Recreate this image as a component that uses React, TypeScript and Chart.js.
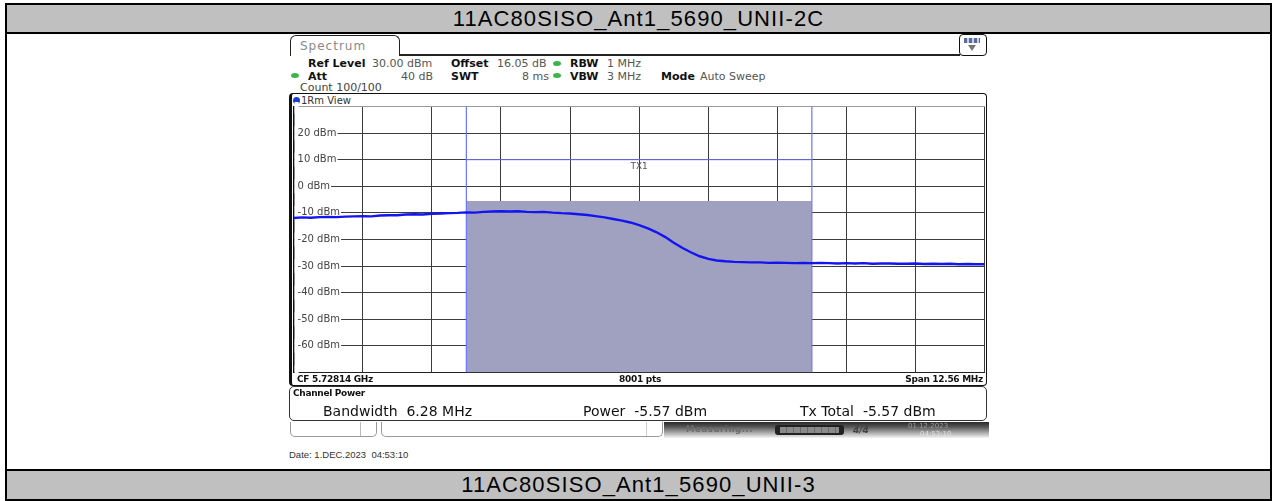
import React, { useEffect, useRef } from "react";
import { Chart, registerables } from "chart.js";

Chart.register(...registerables);

// ---- data (frequency offset from CF 5.72814 GHz, MHz) ----
const freqOffsetMHz = [
  -6.28, -6.12, -5.97, -5.81, -5.65, -5.5, -5.34, -5.18, -5.02, -4.87,
  -4.71, -4.55, -4.4, -4.24, -4.08, -3.93, -3.77, -3.61, -3.45, -3.3,
  -3.14, -2.98, -2.83, -2.67, -2.51, -2.36, -2.2, -2.04, -1.88, -1.73,
  -1.57, -1.41, -1.26, -1.1, -0.94, -0.79, -0.63, -0.47, -0.31, -0.16,
  0.0, 0.16, 0.31, 0.47, 0.63, 0.79, 0.94, 1.1, 1.26, 1.41,
  1.57, 1.73, 1.88, 2.04, 2.2, 2.36, 2.51, 2.67, 2.83, 2.98,
  3.14, 3.3, 3.45, 3.61, 3.77, 3.93, 4.08, 4.24, 4.4, 4.55,
  4.71, 4.87, 5.02, 5.18, 5.34, 5.5, 5.65, 5.81, 5.97, 6.12, 6.28,
];
const traceDbm = [
  -11.9, -11.7, -11.8, -11.6, -11.5, -11.6, -11.4, -11.3, -11.2, -11.3,
  -11.0, -10.9, -10.9, -10.6, -10.5, -10.6, -10.3, -10.2, -10.1, -10.0,
  -9.8, -9.9, -9.6, -9.5, -9.4, -9.5, -9.4, -9.6, -9.7, -9.6,
  -9.9, -10.1, -10.2, -10.5, -10.8, -11.2, -11.7, -12.3, -12.9, -13.6,
  -14.6, -15.8, -17.2, -19.0, -21.2, -23.2, -24.8, -26.3, -27.3, -27.9,
  -28.2, -28.4, -28.5, -28.6, -28.6, -28.8, -28.7, -28.8, -28.9, -28.8,
  -28.9, -28.8, -28.9, -29.0, -28.9, -29.0, -28.9, -29.1, -29.0, -29.0,
  -29.1, -29.1, -29.0, -29.2, -29.1, -29.2, -29.1, -29.3, -29.2, -29.3, -29.3,
];
const xGridMHz = [-6.28, -5.024, -3.768, -2.512, -1.256, 0, 1.256, 2.512, 3.768, 5.024, 6.28];
const yGridDbm = [30, 20, 10, 0, -10, -20, -30, -40, -50, -60, -70];
const yLabelDbm = [20, 10, 0, -10, -20, -30, -40, -50, -60];
const channelEdgesMHz = [-3.14, 3.14];
const channelPowerDbm = -5.57;
const txLineDbm = 10;
const txLabel = "TX1";

const FONT = '"DejaVu Sans", sans-serif';

const txLabelPlugin = {
  id: "txLabel",
  afterDatasetsDraw(chart: any) {
    const { ctx, scales } = chart;
    const x = scales.x.getPixelForValue((channelEdgesMHz[0] + channelEdgesMHz[1]) / 2);
    const y = scales.y.getPixelForValue(txLineDbm);
    ctx.save();
    ctx.font = `9px ${FONT}`;
    ctx.fillStyle = "#555";
    ctx.textAlign = "center";
    ctx.textBaseline = "top";
    ctx.fillText(txLabel, x, y + 2);
    ctx.restore();
  },
};

function T(props: any) {
  const { x, y, right, children, style } = props;
  const s: any = {
    position: "absolute",
    top: y,
    transform: "translateY(-50%)",
    whiteSpace: "nowrap",
    lineHeight: 1,
    fontFamily: FONT,
    ...style,
  };
  if (right !== undefined) s.right = 1274 - right;
  else s.left = x;
  return <span style={s}>{children}</span>;
}

function SpectrumChart() {
  const ref = useRef<HTMLCanvasElement | null>(null);
  useEffect(() => {
    if (!ref.current) return;
    const lineColor = "#6a72ff";
    const chart = new Chart(ref.current, {
      type: "line",
      data: {
        datasets: [
          {
            label: "trace",
            data: freqOffsetMHz.map((f, i) => ({ x: f, y: traceDbm[i] })),
            borderColor: "#1414f0",
            borderWidth: 2.4,
            pointRadius: 0,
            tension: 0,
            fill: false,
            order: 0,
          },
          {
            label: "chLow",
            data: [
              { x: channelEdgesMHz[0], y: yGridDbm[0] },
              { x: channelEdgesMHz[0], y: yGridDbm[yGridDbm.length - 1] },
            ],
            borderColor: lineColor,
            borderWidth: 1.2,
            pointRadius: 0,
            fill: false,
            order: 1,
          },
          {
            label: "chHigh",
            data: [
              { x: channelEdgesMHz[1], y: yGridDbm[0] },
              { x: channelEdgesMHz[1], y: yGridDbm[yGridDbm.length - 1] },
            ],
            borderColor: lineColor,
            borderWidth: 1.2,
            pointRadius: 0,
            fill: false,
            order: 1,
          },
          {
            label: "tx",
            data: [
              { x: channelEdgesMHz[0], y: txLineDbm },
              { x: channelEdgesMHz[1], y: txLineDbm },
            ],
            borderColor: lineColor,
            borderWidth: 1,
            pointRadius: 0,
            fill: false,
            order: 1,
          },
          {
            label: "channel",
            data: [
              { x: channelEdgesMHz[0], y: channelPowerDbm },
              { x: channelEdgesMHz[1], y: channelPowerDbm },
            ],
            borderWidth: 0,
            borderColor: "rgba(0,0,0,0)",
            backgroundColor: "#a0a1c1",
            pointRadius: 0,
            fill: "start",
            order: 2,
          },
        ],
      },
      options: {
        animation: false,
        responsive: false,
        devicePixelRatio: 1,
        layout: { padding: { left: 4.6, top: 4.5, right: 4.4, bottom: 4.5 } },
        plugins: { legend: { display: false }, tooltip: { enabled: false } },
        scales: {
          x: {
            type: "linear",
            min: xGridMHz[0],
            max: xGridMHz[xGridMHz.length - 1],
            afterBuildTicks: (s: any) => {
              s.ticks = xGridMHz.map((v) => ({ value: v }));
            },
            afterFit: (s: any) => {
              s.height = 0;
              s.paddingLeft = 0;
              s.paddingRight = 0;
            },
            ticks: { display: false },
            grid: { color: "#3c3c3c", lineWidth: 1, drawTicks: false },
            border: { display: true, color: "#222", width: 1 },
          },
          y: {
            type: "linear",
            min: yGridDbm[yGridDbm.length - 1],
            max: yGridDbm[0],
            afterBuildTicks: (s: any) => {
              s.ticks = yGridDbm.map((v) => ({ value: v }));
            },
            afterFit: (s: any) => {
              s.width = 0;
              s.paddingTop = 0;
              s.paddingBottom = 0;
            },
            ticks: {
              mirror: true,
              padding: 4,
              color: "#444",
              font: { family: "DejaVu Sans", size: 10 },
              callback: (v: any) => (yLabelDbm.includes(Number(v)) ? `${v} dBm` : ""),
              showLabelBackdrop: true,
              backdropColor: "#ffffff",
              backdropPadding: { top: 1, bottom: 1, left: 3, right: 1 },
            },
            grid: {
              color: (c: any) => (c.tick && c.tick.value === yGridDbm[0] ? "#9a9a9a" : "#3c3c3c"),
              lineWidth: 1,
              drawTicks: false,
            },
            border: { display: true, color: "#111", width: 1.5 },
          },
        },
      },
      plugins: [txLabelPlugin],
    } as any);
    return () => chart.destroy();
  }, []);
  return (
    <canvas
      ref={ref}
      width={700}
      height={275}
      style={{ position: "absolute", left: 289, top: 102, width: 700, height: 275 }}
    />
  );
}

export default function App() {
  useEffect(() => {
    document.body.style.margin = "0";
  }, []);
  const lbl = { fontSize: 11, fontWeight: "bold", color: "#111" };
  const val = { fontSize: 11, color: "#555" };
  const dot = (cx: number, cy: number) => (
    <div
      style={{
        position: "absolute",
        left: cx - 4,
        top: cy - 2.5,
        width: 8,
        height: 5,
        borderRadius: "50%",
        background: "#3bb54a",
      }}
    />
  );
  const head = {
    fontFamily: '"Liberation Sans", Arial, sans-serif',
    fontSize: 22,
    letterSpacing: 1.1,
    color: "#000",
  };
  const barTxt = { fontSize: 9, fontWeight: "bold", color: "#111", letterSpacing: -0.3 };
  return (
    <div
      style={{
        position: "absolute",
        left: 0,
        top: 0,
        width: 1274,
        height: 501,
        background: "#fff",
        overflow: "hidden",
      }}
    >
      {/* table */}
      <div
        style={{
          position: "absolute",
          left: 5,
          top: 3,
          width: 1267,
          height: 498,
          border: "2px solid #000",
          boxSizing: "border-box",
        }}
      />
      <div
        style={{
          position: "absolute",
          left: 7,
          top: 5,
          width: 1263,
          height: 27,
          background: "#c0c0c0",
          display: "flex",
          alignItems: "center",
          justifyContent: "center",
        }}
      >
        <span style={head}>11AC80SISO_Ant1_5690_UNII-2C</span>
      </div>
      <div style={{ position: "absolute", left: 7, top: 32, width: 1263, height: 2, background: "#000" }} />
      <div style={{ position: "absolute", left: 7, top: 469, width: 1263, height: 2, background: "#000" }} />
      <div
        style={{
          position: "absolute",
          left: 7,
          top: 471,
          width: 1263,
          height: 28,
          background: "#c0c0c0",
          display: "flex",
          alignItems: "center",
          justifyContent: "center",
        }}
      >
        <span style={head}>11AC80SISO_Ant1_5690_UNII-3</span>
      </div>

      {/* Spectrum tab */}
      <div
        style={{
          position: "absolute",
          left: 290,
          top: 35,
          width: 110,
          height: 21,
          border: "1.5px solid #222",
          borderBottom: "none",
          borderRadius: "6px 6px 0 0",
          boxSizing: "border-box",
        }}
      />
      <div style={{ position: "absolute", left: 399, top: 54, width: 561, height: 1.5, background: "#222" }} />
      <T x={300} y={45.5} style={{ fontSize: 12, color: "#8a8a8a", letterSpacing: 1 }}>
        Spectrum
      </T>
      {/* icon */}
      <div
        style={{
          position: "absolute",
          left: 959,
          top: 34,
          width: 28,
          height: 22,
          border: "1.5px solid #111",
          borderRadius: 4,
          boxSizing: "border-box",
          background: "#fff",
        }}
      >
        <div
          style={{
            position: "absolute",
            left: 4,
            top: 3,
            width: 16,
            height: 5,
            background: "repeating-linear-gradient(90deg,#5a6a9a 0 3px,#c8d0e8 3px 5px)",
          }}
        />
        <div
          style={{
            position: "absolute",
            left: 8,
            top: 10,
            width: 0,
            height: 0,
            borderLeft: "4px solid transparent",
            borderRight: "4px solid transparent",
            borderTop: "6px solid #777",
          }}
        />
      </div>

      {/* settings */}
      <T x={308} y={63} style={lbl}>Ref Level</T>
      <T x={372} y={63} style={val}>30.00 dBm</T>
      <T x={451} y={63} style={lbl}>Offset</T>
      <T x={497} y={63} style={val}>16.05 dB</T>
      {dot(557, 63)}
      <T x={570} y={63} style={lbl}>RBW</T>
      <T x={607} y={63} style={val}>1 MHz</T>
      {dot(295, 75.5)}
      <T x={308} y={75.5} style={lbl}>Att</T>
      <T right={433} y={75.5} style={val}>40 dB</T>
      <T x={451} y={75.5} style={lbl}>SWT</T>
      <T right={549} y={75.5} style={val}>8 ms</T>
      {dot(557, 75.5)}
      <T x={570} y={75.5} style={lbl}>VBW</T>
      <T x={607} y={75.5} style={val}>3 MHz</T>
      <T x={661} y={75.5} style={lbl}>Mode</T>
      <T x={700} y={75.5} style={val}>Auto Sweep</T>
      <T x={300} y={87} style={{ fontSize: 11, color: "#444" }}>Count 100/100</T>

      {/* diagram window */}
      <div
        style={{
          position: "absolute",
          left: 289,
          top: 93,
          width: 698,
          height: 293,
          border: "1.5px solid #111",
          borderLeft: "3px solid #111",
          borderRadius: 4,
          boxSizing: "border-box",
        }}
      />
      <div
        style={{
          position: "absolute",
          left: 293,
          top: 97,
          width: 7,
          height: 7,
          borderRadius: "50%",
          background: "#1a3cd8",
        }}
      />
      <T x={301} y={100.5} style={{ fontSize: 10, color: "#333" }}>1Rm View</T>

      <SpectrumChart />

      <T x={297} y={378.5} style={barTxt}>CF 5.72814 GHz</T>
      <T x={640} y={378.5} style={{ ...barTxt, transform: "translate(-50%,-50%)" }}>8001 pts</T>
      <T right={983} y={378.5} style={barTxt}>Span 12.56 MHz</T>

      {/* channel power box */}
      <div
        style={{
          position: "absolute",
          left: 289,
          top: 386,
          width: 698,
          height: 35,
          border: "1.5px solid #333",
          borderRadius: 5,
          boxSizing: "border-box",
        }}
      />
      <T x={293} y={393} style={barTxt}>Channel Power</T>
      <T x={323} y={411} style={{ fontSize: 14, color: "#111" }}>Bandwidth&nbsp; 6.28 MHz</T>
      <T x={583} y={411} style={{ fontSize: 14, color: "#111" }}>Power&nbsp; -5.57 dBm</T>
      <T x={800} y={411} style={{ fontSize: 14, color: "#111" }}>Tx Total&nbsp; -5.57 dBm</T>

      {/* status bar */}
      <div
        style={{
          position: "absolute",
          left: 290,
          top: 422,
          width: 87,
          height: 15,
          border: "1px solid #999",
          borderTop: "none",
          borderRadius: "0 0 5px 5px",
          boxSizing: "border-box",
        }}
      >
        <div style={{ position: "absolute", left: 69, top: 0, width: 1, height: 14, background: "#bbb" }} />
      </div>
      <div
        style={{
          position: "absolute",
          left: 381,
          top: 422,
          width: 282,
          height: 15,
          border: "1px solid #999",
          borderTop: "none",
          borderRadius: "0 0 5px 5px",
          boxSizing: "border-box",
        }}
      >
        <div style={{ position: "absolute", left: 264, top: 0, width: 1, height: 14, background: "#ccc" }} />
      </div>
      <div
        style={{
          position: "absolute",
          left: 664,
          top: 422,
          width: 325,
          height: 16,
          background: "linear-gradient(#2a2a2a 0%, #555 30%, #b0b0b0 70%, #f4f4f4 100%)",
        }}
      />
      <T x={686} y={428.5} style={{ fontSize: 8.5, fontWeight: "bold", color: "#6a6a6a", letterSpacing: 0.6 }}>
        Measuring...
      </T>
      <div
        style={{
          position: "absolute",
          left: 775,
          top: 425,
          width: 69,
          height: 10,
          borderRadius: 3,
          background: "#222",
        }}
      >
        <div
          style={{
            position: "absolute",
            left: 5,
            top: 2,
            width: 59,
            height: 6,
            background: "repeating-linear-gradient(90deg,#8a8a8a 0 6px,#6a6a6a 6px 7px)",
          }}
        />
      </div>
      <T x={853} y={430} style={{ fontSize: 9, fontWeight: "bold", fontStyle: "italic", color: "#444" }}>4/4</T>
      <T x={908} y={426} style={{ fontSize: 7, color: "#9a9a9a" }}>01.12.2023</T>
      <T x={920} y={434} style={{ fontSize: 7, color: "#e0e0e0" }}>04:53:10</T>

      <T
        x={289}
        y={455}
        style={{ fontFamily: '"Liberation Sans", Arial, sans-serif', fontSize: 9.5, color: "#333" }}
      >
        Date: 1.DEC.2023&nbsp; 04:53:10
      </T>
    </div>
  );
}
